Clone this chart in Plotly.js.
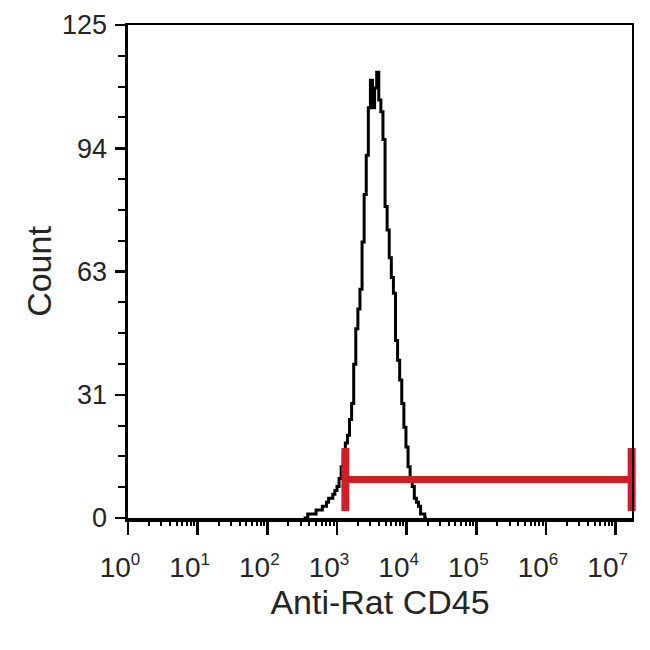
<!DOCTYPE html>
<html>
<head>
<meta charset="utf-8">
<script src="https://cdn.plot.ly/plotly-3.0.1.min.js"></script>
<style>html,body{margin:0;padding:0;background:#fff;}#chart{width:650px;height:650px;}</style>
</head>
<body>
<div id="chart"></div>
<script>
// Histogram bins: log10 of channel intensity (bin start) and event counts
const binLog = [2.52,2.55,2.58,2.61,2.64,2.67,2.70,2.73,2.76,2.79,2.82,2.85,2.88,2.91,2.94,2.97,3.00,3.03,3.06,3.09,3.12,3.15,3.18,3.21,3.24,3.27,3.30,3.33,3.36,3.39,3.42,3.45,3.48,3.51,3.54,3.57,3.60,3.63,3.66,3.69,3.72,3.75,3.78,3.81,3.84,3.87,3.90,3.93,3.96,3.99,4.02,4.05,4.08,4.11,4.14,4.17,4.20,4.23,4.26,4.29];
const counts = [0,0,1,1,1,1,2,2,2,3,3,4,5,5,6,7,8,10,13,16,19,21,25,29,39,48,53,58,70,82,92,104,111,104,109,113,106,103,96,79,73,66,61,57,45,40,35,29,23,18,13,10,8,5,4,3,1,1,0,0];

// Gate marker (red)
const gateX = [1320, 17000000];
const gateY = [9.75, 9.75];

// Axis ticks
const xTickVals = [1,10,100,1000,10000,100000,1000000,10000000];
const xTickText = ['0','1','2','3','4','5','6','7'].map(e => '10<sup><span style="font-size:17px">' + e + '</span></sup>');
const yTickVals = [0,31.25,62.5,93.75,125];
const yTickText = ['0','31','63','94','125'];

const xMinor = [];
for (let k = 0; k < 8; k++) for (let m = 2; m <= 9; m++) { const v = m * Math.pow(10, k); if (v < 1.7e7) xMinor.push(v); }

const txt = '#252525';
const font = 'Liberation Sans, Arial, sans-serif';

const traces = [
  { x: binLog.map(v => Math.pow(10, v)), y: counts, type: 'scatter', mode: 'lines',
    line: { color: '#000', width: 3, shape: 'hv' }, showlegend: false, hoverinfo: 'skip' },
  { x: gateX, y: gateY, type: 'scatter', mode: 'lines+markers', cliponaxis: false,
    line: { color: '#cf1f26', width: 7 },
    marker: { symbol: 'line-ns', size: 45, color: '#cf1f26', line: { color: '#cf1f26', width: 8 } },
    showlegend: false, hoverinfo: 'skip' },
  { x: [], y: [], xaxis: 'x2', yaxis: 'y', showlegend: false },
  { x: [], y: [], xaxis: 'x3', yaxis: 'y2', showlegend: false }
];

const layout = {
  width: 650, height: 650,
  paper_bgcolor: '#fff', plot_bgcolor: '#fff',
  margin: { l: 128, r: 18, t: 25, b: 132 },
  font: { family: font, color: txt },
  xaxis: {
    type: 'log', range: [0, 7.235], autorange: false,
    showline: true, linewidth: 3.5, linecolor: '#000',
    ticks: 'outside', ticklen: 13, tickwidth: 2.5, tickcolor: '#000',
    tickvals: xTickVals, ticktext: xTickText,
    tickfont: { size: 28, color: txt, family: font },
    ticklabelshift: -8, ticklabelstandoff: 9,
    showgrid: false, zeroline: false,
    title: { text: 'Anti-Rat CD45', font: { size: 34, color: txt, family: font }, standoff: 4 }
  },
  xaxis2: {
    type: 'log', range: [0, 7.235], autorange: false, overlaying: 'x', anchor: 'y', side: 'bottom',
    ticks: 'outside', ticklen: 7, tickwidth: 2, tickcolor: '#000',
    tickvals: xMinor, showticklabels: false, showgrid: false, zeroline: false, showline: false
  },
  xaxis3: {
    range: [0, 1], overlaying: 'x', anchor: 'y', side: 'top',
    showline: true, linewidth: 2, linecolor: '#000', ticks: '', showticklabels: false,
    showgrid: false, zeroline: false
  },
  yaxis: {
    range: [0, 125], autorange: false,
    showline: true, linewidth: 3.5, linecolor: '#000',
    ticks: 'outside', ticklen: 10, tickwidth: 2.5, tickcolor: '#000',
    tickvals: yTickVals, ticktext: yTickText,
    tickfont: { size: 27, color: txt, family: font },
    ticklabelstandoff: 2,
    minor: { ticks: 'outside', ticklen: 7, tickwidth: 2, tickcolor: '#000', dtick: 7.8125, tick0: 0, showgrid: false },
    showgrid: false, zeroline: false,
    title: { text: 'Count', font: { size: 34, color: txt, family: font }, standoff: 1 }
  },
  yaxis2: {
    range: [0, 1], overlaying: 'y', anchor: 'x', side: 'right',
    showline: true, linewidth: 2, linecolor: '#000', ticks: '', showticklabels: false,
    showgrid: false, zeroline: false
  }
};

Plotly.newPlot('chart', traces, layout, { displayModeBar: false, staticPlot: true });
</script>
</body>
</html>
